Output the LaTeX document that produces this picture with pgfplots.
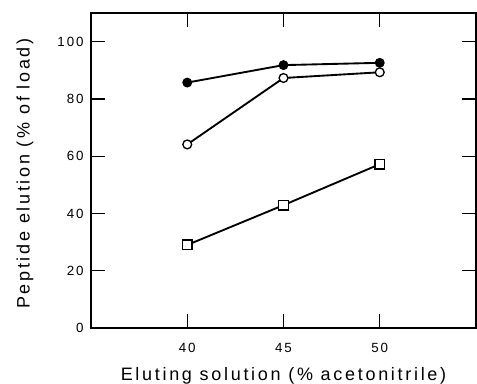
\documentclass[border=0pt]{standalone}
\usepackage{fontspec}
\setmainfont{Liberation Sans}[LetterSpace=15]
\usepackage{pgfplots}
\pgfplotsset{compat=1.18}
\begin{document}
\begin{tikzpicture}
\begin{axis}[
  scale only axis,
  width=288.75pt, height=236.25pt,
  xmin=35, xmax=55, ymin=0, ymax=110,
  xtick={40,45,50}, ytick={0,20,40,60,80,100},
  tick align=inside,
  major tick length=10.5pt,
  tick style={line width=0.9pt, black},
  axis line style={line width=1.3pt},
  /pgf/number format/assume math mode=true,
  tick label style={font=\fontsize{10}{11}\selectfont},
  xticklabel style={yshift=-8pt},
  yticklabel style={xshift=-2pt},
  label style={font=\fontsize{13.5}{15}\selectfont},
  xlabel={Eluting solution (\% acetonitrile)},
  ylabel={Peptide elution (\% of load)},
  x label style={at={(axis description cs:0.5,-0.1524)}, anchor=center},
  y label style={at={(axis description cs:-0.1714,0.49)}, anchor=center},
  every axis plot/.append style={line width=1.4pt, black},
]
\addplot[mark=*, mark size=3.3pt, mark options={fill=black, line width=0.8pt}] coordinates {(40,85.7) (45,91.8) (50,92.6)};
\addplot[mark=*, mark size=3.3pt, mark options={fill=white, line width=1.0pt}] coordinates {(40,64.1) (45,87.3) (50,89.3)};
\addplot[mark=square*, mark size=3.6pt, mark options={fill=white, line width=1.0pt}] coordinates {(40,29.0) (45,42.9) (50,57.2)};
\end{axis}
\pgfresetboundingbox
\path (-68.25pt,-42pt) rectangle (289.5pt,246pt);
\end{tikzpicture}
\end{document}
